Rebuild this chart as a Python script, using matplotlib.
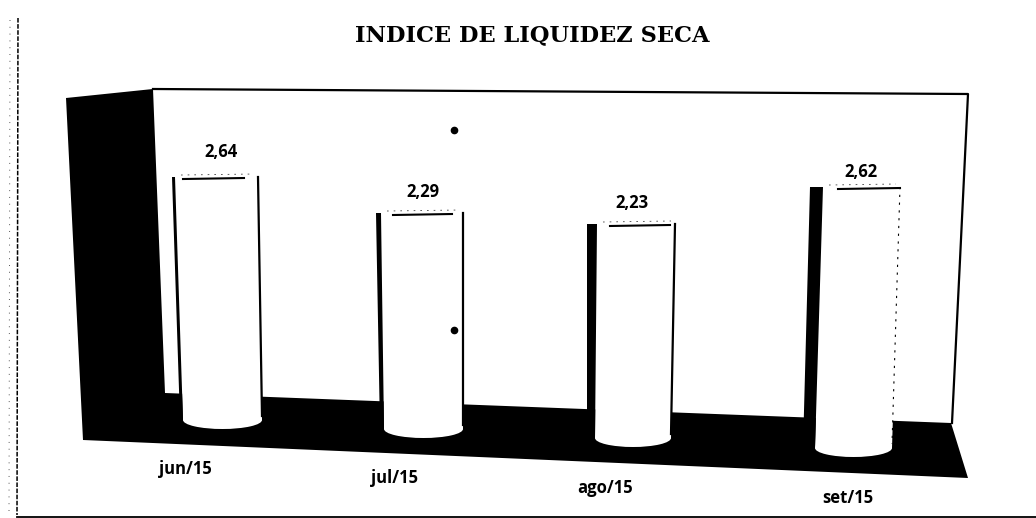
"""Indice de liquidez seca: scanned 3D cylinder chart, drawn in image pixel space."""
import matplotlib

matplotlib.use("Agg")  # headless
import matplotlib.pyplot as plt
from matplotlib.patches import Ellipse, Polygon

months = ["jun/15", "jul/15", "ago/15", "set/15"]
values = [2.64, 2.29, 2.23, 2.62]
value_labels = ["2,64", "2,29", "2,23", "2,62"]

# perspective: each cylinder has its own floor level and pixels per unit
floor_y = [429, 438, 447, 457]
px_per_unit = [95.45, 98.25, 100.0, 103.05]
top_left = [172, 376, 587, 810]
top_shade = [175, 381, 597, 823]
top_right = [258, 463, 675, 900]
base_left = [180, 380, 587, 803]
base_shade = [183, 384, 595, 815]
base_right = [262, 463, 671, 892]
cap_line = [(183, 244), (393, 452), (610, 670), (838, 900)]
label_x = [221, 423, 632, 861]
label_gap = [25, 21, 21, 15]
month_x = [185, 395, 605, 848]
month_y = [469, 478, 488, 498]

LABEL_FONT = ["Open Sans", "DejaVu Sans"]

fig = plt.figure(figsize=(10.36, 5.18), dpi=100)
ax = fig.add_axes([0, 0, 1, 1])
ax.set_xlim(0, 1036)
ax.set_ylim(518, 0)
ax.axis("off")

# walls and floor
ax.add_patch(Polygon([(66, 98), (153, 89), (165, 393), (951, 423), (968, 478), (83, 440)],
                     closed=True, fc="black", ec="none", zorder=1))
ax.plot([153, 968, 960, 952], [89, 94, 260, 423], color="black", lw=1.6, zorder=2)

# cylinders
for i, val in enumerate(values):
    top = floor_y[i] - val * px_per_unit[i]
    side_end = floor_y[i] - 9
    xl, xs, xr = base_left[i], base_shade[i], base_right[i]
    ax.add_patch(Polygon([(top_shade[i], top), (top_right[i], top), (xr, side_end), (xs, side_end)],
                         closed=True, fc="white", ec="none", zorder=3))
    ax.add_patch(Ellipse(((xs + xr) / 2, side_end), xr - xs, 18, fc="white", ec="none", zorder=3))
    # dark left edge, thin right edge
    ax.add_patch(Polygon([(top_left[i], top), (top_shade[i], top), (xs, side_end), (xl, side_end)],
                         closed=True, fc="black", ec="none", zorder=4))
    ax.plot([top_right[i], xr], [top, side_end - 4], color="black", lw=1.6 if i < 3 else 0.8,
            ls="-" if i < 3 else (0, (2, 5)), zorder=4)
    ax.plot(cap_line[i], [top + 2, top + 1], color="black", lw=1.5, zorder=4)
    ax.plot([top_shade[i] + 6, top_right[i] - 4], [top - 2, top - 3], color="#444444", lw=0.6,
            ls=(0, (2, 6)), zorder=4)
    ax.text(label_x[i], top - label_gap[i], value_labels[i], ha="center", va="center",
            fontsize=12, fontweight="bold", family=LABEL_FONT, zorder=5)
    ax.text(month_x[i], month_y[i], months[i], ha="center", va="center",
            fontsize=12, fontweight="bold", family=LABEL_FONT, zorder=5)

ax.text(532, 35, "INDICE DE LIQUIDEZ SECA", ha="center", va="center", fontsize=16.2,
        fontweight="bold", family=["DejaVu Serif"])

# scan artefacts: page edges and two specks
ax.plot([18, 17], [18, 515], color="black", lw=1.1, ls=(0, (3, 1)))
ax.plot([10, 9], [20, 512], color="#555555", lw=0.7, ls=(0, (1, 6)))
ax.plot([17, 1036], [517, 517], color="black", lw=1.3)
ax.plot([454, 454], [130, 330], ls="none", marker="o", ms=4.5, color="black", zorder=6)

fig.savefig("out.png", dpi=100)
plt.close("all")
